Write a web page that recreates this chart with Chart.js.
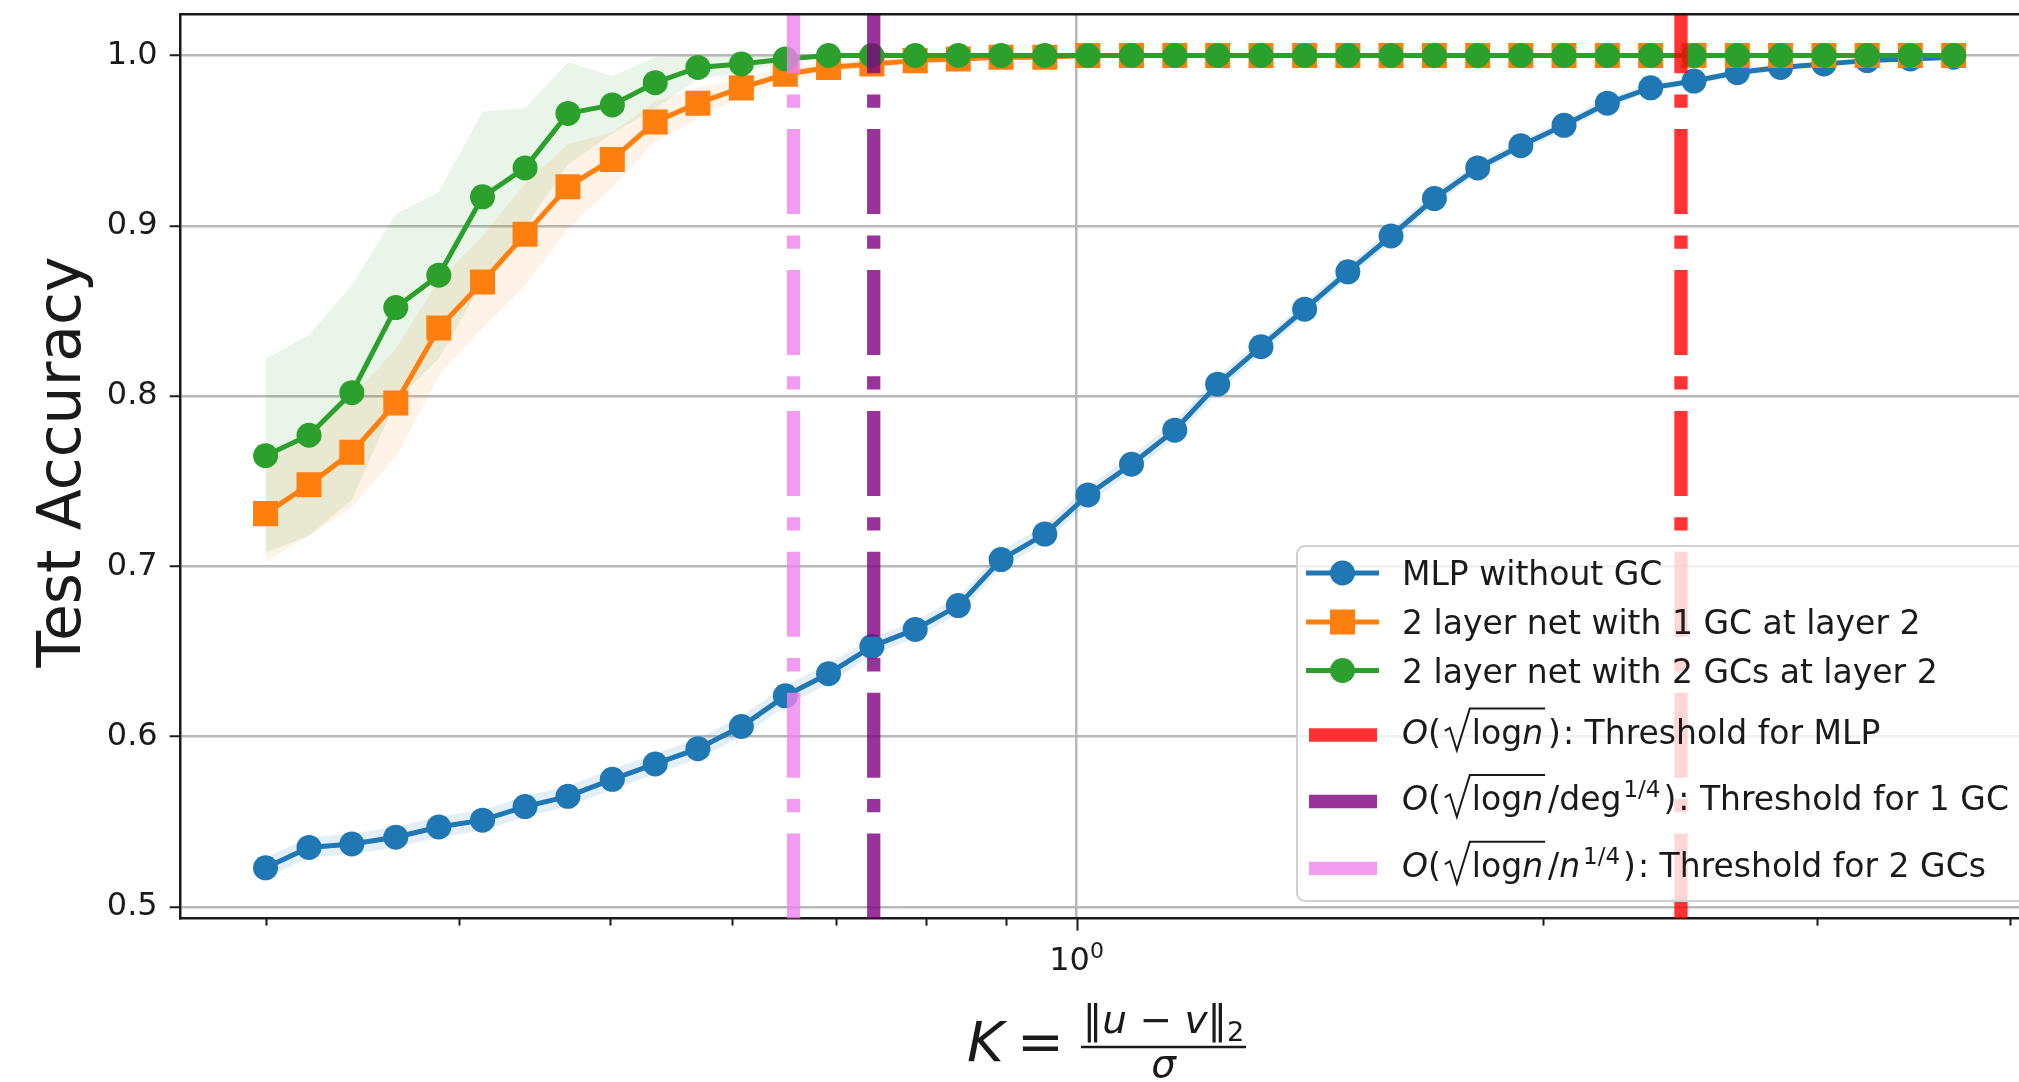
<!DOCTYPE html>
<html>
<head>
<meta charset="utf-8">
<title>Test accuracy vs K</title>
<script src="https://cdn.jsdelivr.net/npm/chart.js@4.4.0/dist/chart.umd.min.js"></script>
<style>
  html, body { margin: 0; padding: 0; background: #fff; overflow: hidden; }
  #wrap { width: 2019px; height: 1082px; overflow: hidden; }
  canvas { display: block; }
</style>
</head>
<body>
<div id="wrap"><canvas id="chart" width="2045" height="1082"></canvas></div>
<script>
//------------------ Data ------------------//
const kValues = [0.300, 0.320, 0.341, 0.364, 0.388, 0.414, 0.441, 0.470, 0.502, 0.535,
                 0.570, 0.608, 0.649, 0.692, 0.738, 0.787, 0.839, 0.894, 0.954, 1.017,
                 1.085, 1.157, 1.233, 1.315, 1.403, 1.496, 1.595, 1.701, 1.814, 1.934,
                 2.062, 2.199, 2.345, 2.501, 2.667, 2.844, 3.033, 3.234, 3.448, 3.677];

const mlpAcc = [0.523, 0.535, 0.537, 0.541, 0.547, 0.551, 0.559, 0.565, 0.575, 0.584,
                0.593, 0.606, 0.624, 0.637, 0.653, 0.663, 0.677, 0.704, 0.719, 0.742,
                0.760, 0.780, 0.807, 0.829, 0.851, 0.873, 0.894, 0.916, 0.934, 0.947,
                0.959, 0.972, 0.981, 0.985, 0.990, 0.993, 0.995, 0.997, 0.998, 0.999];
const mlpSpread = [0.006, 0.006, 0.006, 0.006, 0.006, 0.006, 0.006, 0.006, 0.006, 0.006,
                   0.006, 0.006, 0.006, 0.006, 0.005, 0.005, 0.005, 0.005, 0.005, 0.005,
                   0.005, 0.005, 0.005, 0.004, 0.004, 0.004, 0.004, 0.004, 0.003, 0.003,
                   0.003, 0.003, 0.002, 0.002, 0.002, 0.002, 0.001, 0.001, 0.001, 0.001];

const gc1Acc = [0.731, 0.748, 0.767, 0.796, 0.840, 0.867, 0.895, 0.923, 0.939, 0.961,
                0.972, 0.981, 0.989, 0.993, 0.995, 0.997, 0.998, 0.999, 0.999, 1.000,
                1.000, 1.000, 1.000, 1.000, 1.000, 1.000, 1.000, 1.000, 1.000, 1.000,
                1.000, 1.000, 1.000, 1.000, 1.000, 1.000, 1.000, 1.000, 1.000, 1.000];
const gc1Spread = [0.028, 0.030, 0.032, 0.032, 0.028, 0.027, 0.030, 0.025, 0.016, 0.012,
                   0.009, 0.005, 0.004, 0.003, 0.002, 0.002, 0.001, 0.001, 0.001, 0.000,
                   0, 0, 0, 0, 0, 0, 0, 0, 0, 0,
                   0, 0, 0, 0, 0, 0, 0, 0, 0, 0];

const gc2Acc = [0.765, 0.777, 0.802, 0.852, 0.871, 0.917, 0.934, 0.966, 0.971, 0.984,
                0.993, 0.995, 0.998, 1.000, 1.000, 1.000, 1.000, 1.000, 1.000, 1.000,
                1.000, 1.000, 1.000, 1.000, 1.000, 1.000, 1.000, 1.000, 1.000, 1.000,
                1.000, 1.000, 1.000, 1.000, 1.000, 1.000, 1.000, 1.000, 1.000, 1.000];
const gc2Spread = [0.057, 0.059, 0.063, 0.055, 0.049, 0.050, 0.035, 0.030, 0.017, 0.015,
                   0.007, 0.005, 0.002, 0, 0, 0, 0, 0, 0, 0,
                   0, 0, 0, 0, 0, 0, 0, 0, 0, 0,
                   0, 0, 0, 0, 0, 0, 0, 0, 0, 0];

// thresholds: MLP, 1 GC, 2 GCs
const thresholdK = [2.453, 0.740, 0.657];
const thresholdColors = ['rgba(255,0,0,0.8)', 'rgba(128,0,128,0.8)', 'rgba(238,130,238,0.8)'];

const seriesLabels = ['MLP without GC', '2 layer net with 1 GC at layer 2', '2 layer net with 2 GCs at layer 2'];
const seriesColors = ['#1f77b4', '#ff7f0e', '#2ca02c'];

const yTicks = [0.5, 0.6, 0.7, 0.8, 0.9, 1.0];
const xMajorTicks = [1];
const xMinorTicks = [0.3, 0.4, 0.5, 0.6, 0.7, 0.8, 0.9, 2, 3, 4];

const X_MIN = 0.2645, X_MAX = 4.149;
const Y_MIN = 0.4932, Y_MAX = 1.0242;

const FONT = '"DejaVu Sans"';
const TEXT = '#1a1a1a';

//------------------ Helpers ------------------//
const pts = (ys, d = null, sign = 0) => kValues.map((k, i) => ({ x: k, y: ys[i] + sign * (d ? d[i] : 0) }));

function band(mean, spread, color, order) {
  return [
    { data: pts(mean, spread, 1), fill: '+1', backgroundColor: color, borderColor: 'rgba(0,0,0,0)',
      borderWidth: 0, pointRadius: 0, order },
    { data: pts(mean, spread, -1), fill: false, borderColor: 'rgba(0,0,0,0)', borderWidth: 0,
      pointRadius: 0, order }
  ];
}

function series(mean, color, style, radius, order) {
  return { data: pts(mean), borderColor: color, backgroundColor: color, borderWidth: 5,
    pointStyle: style, pointRadius: radius, pointBackgroundColor: color, pointBorderWidth: 0,
    fill: false, order };
}

function vline(k, color) {
  // drawn bottom -> top so the dash pattern starts at the x axis, like matplotlib
  return { data: [{ x: k, y: Y_MIN }, { x: k, y: Y_MAX }], borderColor: color, borderWidth: 13.3,
    borderDash: [85, 21.3, 13.3, 21.3], pointRadius: 0, fill: false, order: 0 };
}

function setFont(ctx, size, italic) {
  ctx.font = (italic ? 'italic ' : '') + size + 'px ' + FONT;
}

// tiny mathtext: pieces are {t, it, sup, sub}, {gap} or {root:[...]}
function drawMath(ctx, pieces, x, y, size, measureOnly) {
  for (const p of pieces) {
    if (p.gap) { x += p.gap; continue; }
    if (p.root) {
      const top = y - size * 1.06;
      const start = x + 29;
      const end = drawMath(ctx, p.root, start + 2, y, size, measureOnly);
      if (!measureOnly) {
        ctx.save();
        ctx.lineWidth = 2;
        ctx.strokeStyle = TEXT;
        ctx.beginPath();
        ctx.moveTo(x + 4, y - size * 0.38);
        ctx.lineTo(x + 9, y - size * 0.47);
        ctx.lineTo(x + 16, y + size * 0.21);
        ctx.lineTo(start, top);
        ctx.lineTo(end + 2, top);
        ctx.stroke();
        ctx.restore();
      }
      x = end + 5;
      continue;
    }
    const fs = (p.sup || p.sub) ? Math.round(size * 0.7) : size;
    setFont(ctx, fs, p.it);
    const yy = p.sup ? y - size * 0.38 : (p.sub ? y + size * 0.2 : y);
    if (!measureOnly) ctx.fillText(p.t, x, yy);
    x += ctx.measureText(p.t).width;
  }
  return x;
}

const legendMath = [
  [{ t: 'O', it: 1 }, { t: '(' }, { root: [{ t: 'log' }, { t: 'n', it: 1 }] }, { t: ')' }, { gap: 2 },
   { t: ': Threshold for MLP' }],
  [{ t: 'O', it: 1 }, { t: '(' }, { root: [{ t: 'log' }, { t: 'n', it: 1 }] }, { t: '/deg' }, { gap: 2 },
   { t: '1/4', sup: 1 }, { gap: 3 }, { t: ')' }, { gap: 2 }, { t: ': Threshold for 1 GC' }],
  [{ t: 'O', it: 1 }, { t: '(' }, { root: [{ t: 'log' }, { t: 'n', it: 1 }] }, { t: '/' }, { t: 'n', it: 1 },
   { gap: 3 }, { t: '1/4', sup: 1 }, { gap: 3 }, { t: ')' }, { gap: 2 }, { t: ': Threshold for 2 GCs' }]
];

//------------------ Decorations plugin ------------------//
const decorations = {
  id: 'decorations',
  afterDatasetsDraw(chart) {
    const { ctx, chartArea: a } = chart;
    ctx.save();
    ctx.strokeStyle = '#1a1a1a';
    ctx.lineWidth = 2.5;
    ctx.beginPath();
    ctx.moveTo(a.left, a.top);
    ctx.lineTo(a.right, a.top);
    ctx.stroke();
    ctx.restore();
  },
  afterDraw(chart) {
    const { ctx, chartArea: a, scales } = chart;
    const xs = scales.x;
    ctx.save();

    // x ticks
    ctx.strokeStyle = '#1a1a1a';
    ctx.lineWidth = 2;
    xMajorTicks.concat(xMinorTicks).forEach(v => {
      const px = Math.round(xs.getPixelForValue(v)) + 0.5;
      const len = xMajorTicks.includes(v) ? 12 : 7;
      ctx.beginPath();
      ctx.moveTo(px, a.bottom);
      ctx.lineTo(px, a.bottom + len);
      ctx.stroke();
    });

    // x tick label 10^0
    ctx.fillStyle = TEXT;
    ctx.textBaseline = 'alphabetic';
    ctx.textAlign = 'left';
    xMajorTicks.forEach(v => {
      const px = xs.getPixelForValue(v);
      const pieces = [{ t: '10' }, { t: String(Math.round(Math.log10(v))), sup: 1 }];
      const w = drawMath(ctx, pieces, 0, 0, 32, true);
      drawMath(ctx, pieces, px - w / 2, 970, 32);
    });

    // y title
    ctx.save();
    ctx.translate(80, 462);
    ctx.rotate(-Math.PI / 2);
    setFont(ctx, 60, false);
    ctx.textAlign = 'center';
    ctx.fillText('Test Accuracy', 0, 0);
    ctx.restore();

    // x title: K = ||u - v||_2 / sigma
    ctx.textAlign = 'left';
    setFont(ctx, 56, true);
    ctx.fillText('K', 967, 1061);
    setFont(ctx, 56, false);
    ctx.fillText('=', 1017, 1061);
    const num = [{ t: '‖' }, { t: 'u', it: 1 }, { t: ' − ' }, { t: 'v', it: 1 }, { t: '‖' }, { t: '2', sub: 1 }];
    const nw = drawMath(ctx, num, 0, 0, 39, true);
    const cx = 1163.5;
    drawMath(ctx, num, cx - nw / 2, 1033, 39);
    ctx.lineWidth = 2.5;
    ctx.beginPath();
    ctx.moveTo(1081, 1047);
    ctx.lineTo(1246, 1047);
    ctx.stroke();
    setFont(ctx, 39, true);
    ctx.textAlign = 'center';
    ctx.fillText('σ', cx, 1077);

    // legend
    const lx = 1297, ly = 546, lw = 740, lh = 355, r = 8;
    ctx.beginPath();
    ctx.moveTo(lx + r, ly);
    ctx.lineTo(lx + lw - r, ly);
    ctx.arcTo(lx + lw, ly, lx + lw, ly + r, r);
    ctx.lineTo(lx + lw, ly + lh - r);
    ctx.arcTo(lx + lw, ly + lh, lx + lw - r, ly + lh, r);
    ctx.lineTo(lx + r, ly + lh);
    ctx.arcTo(lx, ly + lh, lx, ly + lh - r, r);
    ctx.lineTo(lx, ly + r);
    ctx.arcTo(lx, ly, lx + r, ly, r);
    ctx.closePath();
    ctx.fillStyle = 'rgba(255,255,255,0.8)';
    ctx.fill();
    ctx.strokeStyle = '#d0d0d0';
    ctx.lineWidth = 2;
    ctx.stroke();

    const rowY = [573, 622, 670.5];
    const markers = ['circle', 'rect', 'circle'];
    ctx.textAlign = 'left';
    rowY.forEach((y, i) => {
      ctx.strokeStyle = seriesColors[i];
      ctx.fillStyle = seriesColors[i];
      ctx.lineWidth = 5;
      ctx.beginPath();
      ctx.moveTo(1306, y);
      ctx.lineTo(1379, y);
      ctx.stroke();
      if (markers[i] === 'circle') {
        ctx.beginPath();
        ctx.arc(1342.5, y, 12.5, 0, Math.PI * 2);
        ctx.fill();
      } else {
        ctx.fillRect(1342.5 - 12.5, y - 12.5, 25, 25);
      }
      ctx.fillStyle = TEXT;
      setFont(ctx, 33, false);
      ctx.fillText(seriesLabels[i], 1402, y + 12.3);
    });

    const mathY = [735, 801.5, 868.3];
    mathY.forEach((y, i) => {
      ctx.strokeStyle = thresholdColors[i];
      ctx.lineWidth = 13.3;
      ctx.beginPath();
      ctx.moveTo(1309, y);
      ctx.lineTo(1377, y);
      ctx.stroke();
      ctx.fillStyle = TEXT;
      drawMath(ctx, legendMath[i], 1402, y + 8.5, 33);
    });

    ctx.restore();
  }
};

//------------------ Chart ------------------//
const datasets = [
  vline(thresholdK[0], thresholdColors[0]),
  vline(thresholdK[1], thresholdColors[1]),
  vline(thresholdK[2], thresholdColors[2]),
  series(gc2Acc, seriesColors[2], 'circle', 12.5, 1),
  series(gc1Acc, seriesColors[1], 'rect', 17.7, 2),
  series(mlpAcc, seriesColors[0], 'circle', 12.5, 3),
  ...band(gc2Acc, gc2Spread, 'rgba(44,160,44,0.1)', 4),
  ...band(gc1Acc, gc1Spread, 'rgba(255,127,14,0.1)', 5),
  ...band(mlpAcc, mlpSpread, 'rgba(31,119,180,0.12)', 6)
];

const chart = new Chart(document.getElementById('chart'), {
  type: 'line',
  data: { datasets },
  options: {
    responsive: false,
    animation: false,
    devicePixelRatio: 1,
    layout: { autoPadding: false, padding: { left: 0, top: 14.3, right: 10, bottom: 0 } },
    plugins: { legend: { display: false }, tooltip: { enabled: false } },
    elements: { line: { tension: 0 } },
    scales: {
      x: {
        type: 'logarithmic',
        bounds: 'data',
        min: X_MIN,
        max: X_MAX,
        afterBuildTicks: s => { s.ticks = xMajorTicks.map(v => ({ value: v })); },
        ticks: { display: false },
        grid: { color: '#b8b8b8', lineWidth: 2.5, drawTicks: false },
        border: { display: true, color: '#1a1a1a', width: 2.5 },
        afterFit: s => { s.height = 1082 - 918.6; s.paddingLeft = 0; s.paddingRight = 0; }
      },
      y: {
        type: 'linear',
        bounds: 'data',
        min: Y_MIN,
        max: Y_MAX,
        afterBuildTicks: s => { s.ticks = yTicks.map(v => ({ value: v })); },
        ticks: {
          callback: v => v.toFixed(1),
          font: { family: 'DejaVu Sans', size: 32 },
          color: TEXT,
          padding: 12
        },
        grid: { color: '#b8b8b8', lineWidth: 2.5, tickLength: 11, tickColor: '#1a1a1a', tickWidth: 2 },
        border: { display: true, color: '#1a1a1a', width: 2.5 },
        afterFit: s => { s.width = 180.7; s.paddingTop = 0; s.paddingBottom = 0; }
      }
    }
  },
  plugins: [decorations]
});
</script>
</body>
</html>
